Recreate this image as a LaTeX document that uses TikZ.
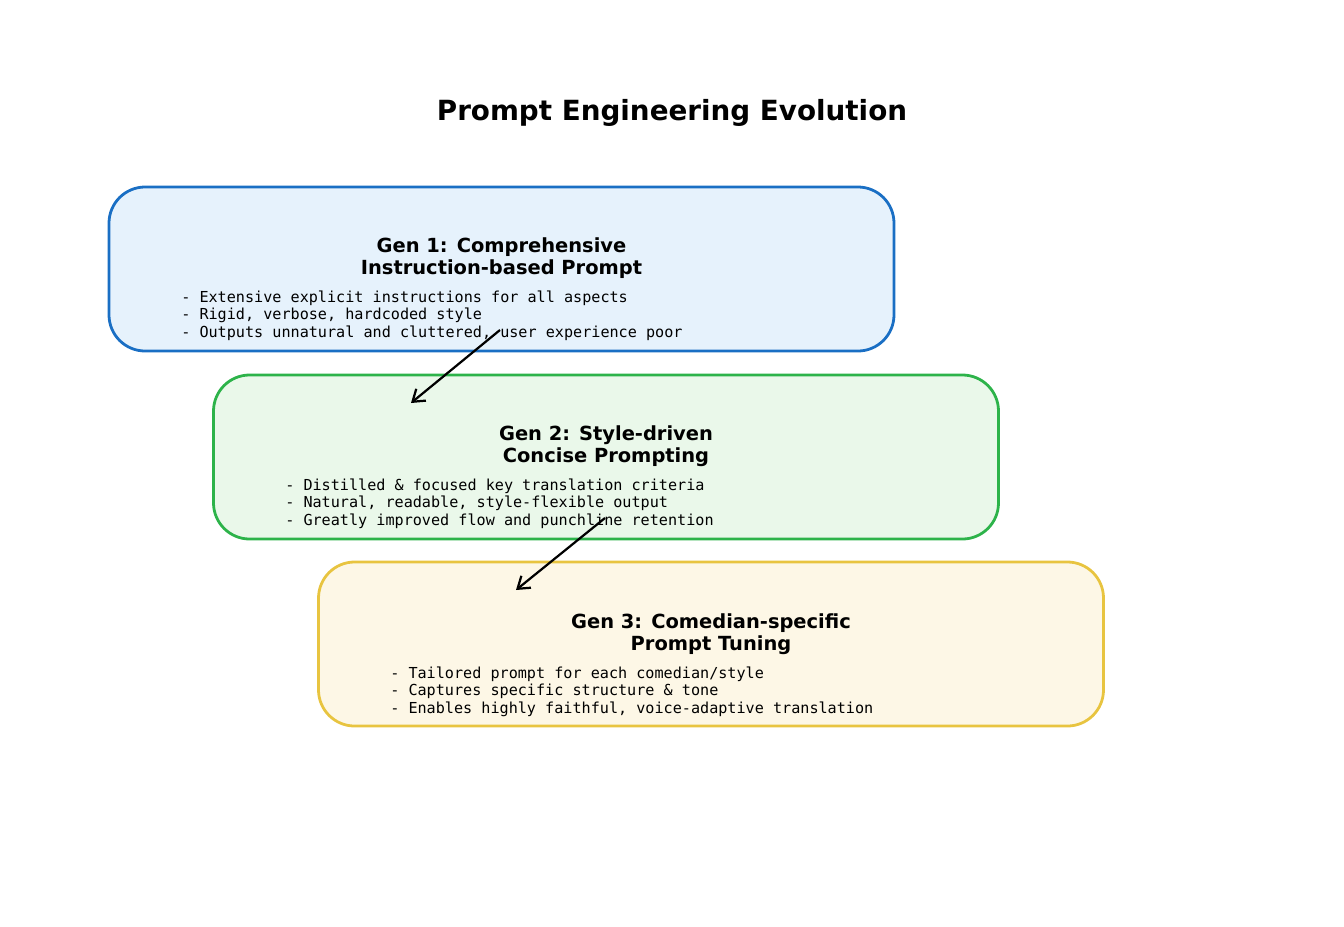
\documentclass[tikz,border=0pt]{standalone}
\usepackage{fontspec}
\setmainfont{DejaVu Sans}
\newfontfamily\monofont{DejaVu Sans Mono}
\usetikzlibrary{arrows.meta}

\definecolor{genblue}{HTML}{1A6FC4}
\definecolor{genbluefill}{HTML}{E6F2FC}
\definecolor{gengreen}{HTML}{2DB34A}
\definecolor{gengreenfill}{HTML}{EAF8EA}
\definecolor{genyellow}{HTML}{E8C440}
\definecolor{genyellowfill}{HTML}{FDF7E6}

\begin{document}
\begin{tikzpicture}
  [x=0.72pt,y=-0.72pt,
   genbox/.style={draw,line width=2pt,rounded corners=26pt,
     minimum width=565.2pt,minimum height=118.1pt,inner sep=0pt},
   genhead/.style={align=center,inner sep=0pt,
     font=\fontsize{14}{15.8}\selectfont\bfseries},
   genlist/.style={anchor=west,align=left,inner sep=0pt,
     font=\fontsize{10.9}{12.6}\selectfont\monofont},
   genarrow/.style={line width=1.6pt,-{Straight Barb[length=8pt,width=11pt]}}]
  \useasboundingbox (0,0) rectangle (1344,927);

  \node[inner sep=0pt,font=\fontsize{20}{24}\selectfont\bfseries] (title)
    at (672,113) {Prompt Engineering Evolution};

  \node[genbox,draw=genblue,fill=genbluefill] (g1) at (501.5,269) {};
  \node[genbox,draw=gengreen,fill=gengreenfill] (g2) at (606,457) {};
  \node[genbox,draw=genyellow,fill=genyellowfill] (g3) at (711,644) {};

  \node[genhead] (h1) at (501.5,258) {Gen 1: Comprehensive\\Instruction-based Prompt};
  \node[genhead] (h2) at (606,446) {Gen 2: Style-driven\\Concise Prompting};
  \node[genhead] (h3) at (711,634) {Gen 3: Comedian-specific\\Prompt Tuning};

  \node[genlist] (l1) at (181,315.5) {- Extensive explicit instructions for all aspects\\
    - Rigid, verbose, hardcoded style\\
    - Outputs unnatural and cluttered, user experience poor};
  \node[genlist] (l2) at (285,503.5) {- Distilled \& focused key translation criteria\\
    - Natural, readable, style-flexible output\\
    - Greatly improved flow and punchline retention};
  \node[genlist] (l3) at (390,691.5) {- Tailored prompt for each comedian/style\\
    - Captures specific structure \& tone\\
    - Enables highly faithful, voice-adaptive translation};

  \coordinate (a1) at (500,330);
  \coordinate (b1) at (411,403);
  \coordinate (a2) at (605,518);
  \coordinate (b2) at (516,590);

  \foreach \from/\to in {a1/b1,a2/b2}
    \draw[genarrow] (\from) -- (\to);

\end{tikzpicture}
\end{document}
